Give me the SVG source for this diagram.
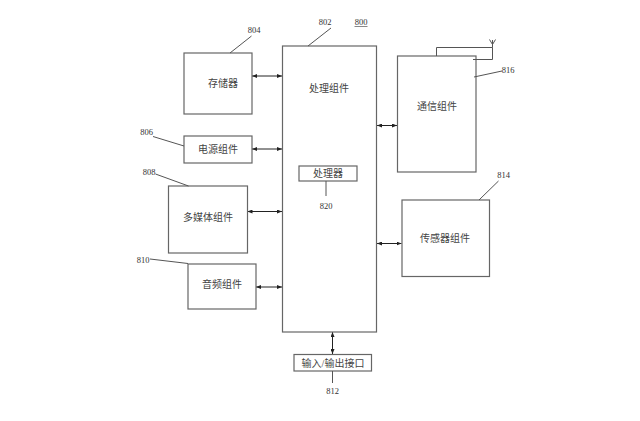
<svg xmlns="http://www.w3.org/2000/svg" width="640" height="421" viewBox="0 0 640 421">
<style>
.box{fill:#fff;stroke:#666;stroke-width:1.2}
.ln{fill:none;stroke:#555;stroke-width:1}
.cn{fill:#fff;stroke:none}
.zh{font-family:"Liberation Serif","Noto Sans CJK SC",serif;font-size:10px;fill:#444;text-anchor:middle;dominant-baseline:central}
.num{font-family:"Liberation Serif",serif;font-size:8.5px;fill:#333;text-anchor:middle;dominant-baseline:central}
.arr{fill:none;stroke:#222;stroke-width:1;marker-start:url(#ah);marker-end:url(#ah)}
</style>
<defs>
<marker id="ah" viewBox="0 0 10 8" refX="10" refY="4" markerWidth="5" markerHeight="4" orient="auto-start-reverse" markerUnits="userSpaceOnUse">
<path d="M0,0 L10,4 L0,8 Z" fill="#222"/>
</marker>
</defs>
<rect width="640" height="421" fill="#fff"/>
<g id="connectors">
<line class="arr" x1="252" y1="76" x2="282" y2="76"/>
<line class="arr" x1="252" y1="149" x2="282" y2="149"/>
<line class="arr" x1="247.5" y1="211.5" x2="282" y2="211.5"/>
<line class="arr" x1="256" y1="287" x2="282" y2="287"/>
<line class="arr" x1="377" y1="125.5" x2="397" y2="125.5"/>
<line class="arr" x1="377" y1="243.5" x2="401.5" y2="243.5"/>
<line class="arr" x1="332.5" y1="332" x2="332.5" y2="354"/>
</g>
<g id="n802">
<rect class="box" x="282.5" y="46" width="94" height="286"/>
<text class="zh" x="329" y="88">处理组件</text>
<line class="ln" x1="308" y1="46" x2="331" y2="28"/>
<text class="num" x="325" y="22">802</text>
</g>
<g id="n800">
<text class="num" x="361" y="22">800</text>
<line class="ln" x1="354.5" y1="26.5" x2="367.5" y2="26.5" style="stroke-width:0.7"/>
</g>
<g id="n820">
<rect class="box" x="299" y="166" width="58" height="15"/>
<text class="zh" x="328" y="173.5">处理器</text>
<line class="ln" x1="326" y1="181" x2="326" y2="196"/>
<text class="num" x="326" y="206">820</text>
</g>
<g id="n804">
<rect class="box" x="184" y="53" width="68" height="61"/>
<text class="zh" x="223" y="83">存储器</text>
<line class="ln" x1="230" y1="53" x2="251.5" y2="36"/>
<text class="num" x="254" y="30">804</text>
</g>
<g id="n806">
<rect class="box" x="184" y="136" width="68" height="27"/>
<text class="zh" x="218" y="149">电源组件</text>
<line class="ln" x1="153" y1="136.5" x2="184" y2="146"/>
<text class="num" x="146.5" y="131.5">806</text>
</g>
<g id="n808">
<rect class="box" x="168.5" y="186" width="79" height="67"/>
<text class="zh" x="208" y="217">多媒体组件</text>
<line class="ln" x1="155.5" y1="174" x2="188.5" y2="186"/>
<text class="num" x="149" y="171.5">808</text>
</g>
<g id="n810">
<rect class="box" x="188" y="264" width="68" height="45"/>
<text class="zh" x="222" y="284">音频组件</text>
<line class="ln" x1="150" y1="259" x2="188" y2="263.5"/>
<text class="num" x="143" y="259.5">810</text>
</g>
<g id="n816">
<rect class="box" x="397.5" y="56" width="78.5" height="116"/>
<text class="zh" x="437" y="106">通信组件</text>
<polyline class="ln" points="436.5,56 436.5,47.5 492.5,47.5 492.5,59.5 473,59.5"/>
<line class="ln" x1="492.5" y1="47.5" x2="492.5" y2="40"/>
<polyline class="ln" points="489.5,39.5 492.5,44.5 495.5,39.5"/>
<line class="ln" x1="474" y1="77" x2="502" y2="71"/>
<text class="num" x="508" y="70">816</text>
</g>
<g id="n814">
<rect class="box" x="402" y="200" width="87.5" height="76.5"/>
<text class="zh" x="445" y="238.5">传感器组件</text>
<line class="ln" x1="479" y1="200" x2="498.5" y2="181"/>
<text class="num" x="503.5" y="175">814</text>
</g>
<g id="n812">
<rect class="box" x="294" y="354.5" width="77.5" height="16.5"/>
<text class="zh" x="333" y="363">输入/输出接口</text>
<line class="ln" x1="332.5" y1="371" x2="332.5" y2="383"/>
<text class="num" x="332.5" y="390.5">812</text>
</g>
</svg>
